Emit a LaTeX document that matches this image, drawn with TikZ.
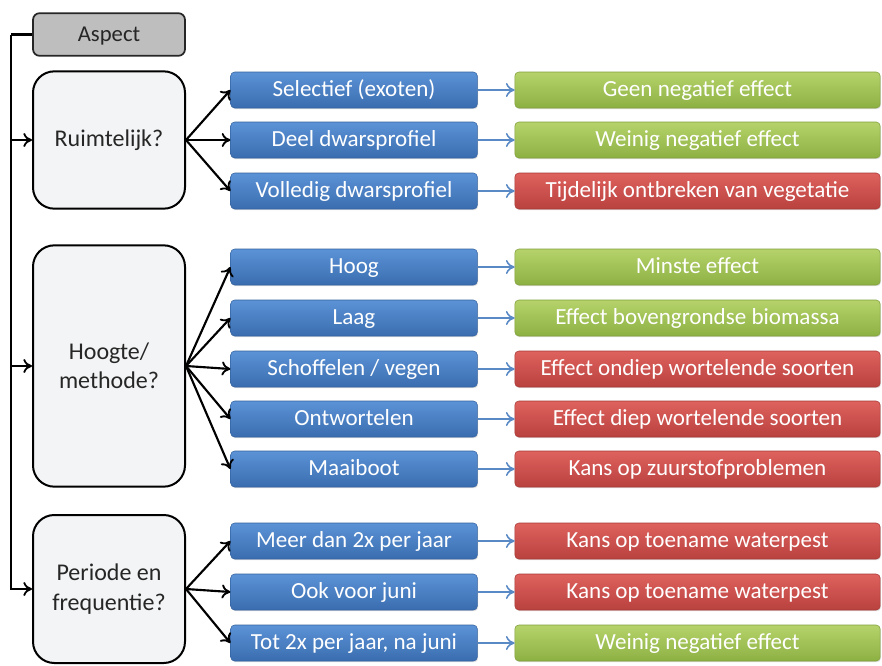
\documentclass[tikz,border=0pt]{standalone}
\usepackage{fontspec}
\setmainfont{Carlito}
\usetikzlibrary{arrows.meta,shadows}
\definecolor{qfill}{HTML}{F3F4F5}
\definecolor{aspfill}{HTML}{BEBEBE}
\definecolor{bluetop}{HTML}{5B93D6}
\definecolor{bluebot}{HTML}{3A6DB0}
\definecolor{greentop}{HTML}{B5D36A}
\definecolor{greenbot}{HTML}{8DB043}
\definecolor{redtop}{HTML}{DE625E}
\definecolor{redbot}{HTML}{B9413E}
\definecolor{linkblue}{HTML}{5A8AC6}
\definecolor{txt}{HTML}{262626}
\tikzset{
  qbox/.style={draw=black, line width=1.5pt, fill=qfill, rounded corners=16pt,
    minimum width=114pt, align=center, text=txt, font=\fontsize{18}{22}\selectfont},
  aspbox/.style={draw=black!85, line width=1.3pt, fill=aspfill, rounded corners=5pt,
    minimum width=114pt, minimum height=32pt, text=txt, text height=13pt, text depth=3pt,
    font=\fontsize{17}{20}\selectfont},
  effbase/.style={rounded corners=3pt, minimum height=27pt, text=white, line width=0.4pt,
    text height=13pt, text depth=3pt,
    drop shadow={shadow xshift=0.6pt, shadow yshift=-0.9pt, opacity=0.25},
    font=\fontsize{17.3}{20}\selectfont},
  optbox/.style={effbase, minimum width=185pt,
    top color=bluetop, bottom color=bluebot, draw=bluebot!90!black},
  goodbox/.style={effbase, minimum width=274pt,
    top color=greentop, bottom color=greenbot, draw=greenbot!90!black},
  badbox/.style={effbase, minimum width=274pt,
    top color=redtop, bottom color=redbot, draw=redbot!90!black},
  fan/.style={draw=black, line width=1.6pt, -{To[length=6.5pt,width=10.5pt,line width=1.4pt]}},
  feed/.style={draw=black, line width=1.8pt, -{To[length=6.5pt,width=10.5pt,line width=1.4pt]}},
  link/.style={draw=linkblue, line width=1.3pt, -{To[length=6.5pt,width=10.5pt,line width=1.2pt]}},
}
\begin{document}
\begin{tikzpicture}[x=0.75pt,y=-0.75pt]
\useasboundingbox (0,0) rectangle (882,665);

% aspect header and the three questions
\node[aspbox] (asp) at (109,34.5) {Aspect};
\node[qbox, minimum height=103pt] (q1) at (109,140) {Ruimtelijk?};
\node[qbox, minimum height=181pt] (q2) at (109,366) {Hoogte/\\methode?};
\node[qbox, minimum height=111pt] (q3) at (109,589) {Periode en\\frequentie?};

% options per question
\node[optbox] (o1) at (354,90)  {Selectief (exoten)};
\node[optbox] (o2) at (354,140) {Deel dwarsprofiel};
\node[optbox] (o3) at (354,191) {Volledig dwarsprofiel};
\node[optbox] (o4) at (354,267) {Hoog};
\node[optbox] (o5) at (354,318) {Laag};
\node[optbox] (o6) at (354,369) {Schoffelen / vegen};
\node[optbox] (o7) at (354,419) {Ontwortelen};
\node[optbox] (o8) at (354,469) {Maaiboot};
\node[optbox] (o9) at (354,541) {Meer dan 2x per jaar};
\node[optbox] (o10) at (354,592) {Ook voor juni};
\node[optbox] (o11) at (354,643) {Tot 2x per jaar, na juni};

% effects
\node[goodbox] (e1) at (697.5,90)  {Geen negatief effect};
\node[goodbox] (e2) at (697.5,140) {Weinig negatief effect};
\node[badbox]  (e3) at (697.5,191) {Tijdelijk ontbreken van vegetatie};
\node[goodbox] (e4) at (697.5,267) {Minste effect};
\node[goodbox] (e5) at (697.5,318) {Effect bovengrondse biomassa};
\node[badbox]  (e6) at (697.5,369) {Effect ondiep wortelende soorten};
\node[badbox]  (e7) at (697.5,419) {Effect diep wortelende soorten};
\node[badbox]  (e8) at (697.5,469) {Kans op zuurstofproblemen};
\node[badbox]  (e9) at (697.5,541) {Kans op toename waterpest};
\node[badbox]  (e10) at (697.5,592) {Kans op toename waterpest};
\node[goodbox] (e11) at (697.5,643) {Weinig negatief effect};

% spine from the header down to the questions
\coordinate (sp0) at (11,34.5);
\coordinate (sp1) at (11,140);
\coordinate (sp2) at (11,366);
\draw[line width=1.8pt] (asp.west) -- (sp0);
\draw[feed] (sp0) |- (q3.west);
\draw[feed] (sp1) -- (q1.west);
\draw[feed] (sp2) -- (q2.west);

% fans from each question to its options
\foreach \o in {o1,o2,o3} \draw[fan] (q1.east) -- (\o.west);
\foreach \o in {o4,o5,o6,o7,o8} \draw[fan] (q2.east) -- (\o.west);
\foreach \o in {o9,o10,o11} \draw[fan] (q3.east) -- (\o.west);

% options to effects
\foreach \i in {1,...,11} \draw[link] (o\i.east) -- (e\i.west);
\end{tikzpicture}
\end{document}
